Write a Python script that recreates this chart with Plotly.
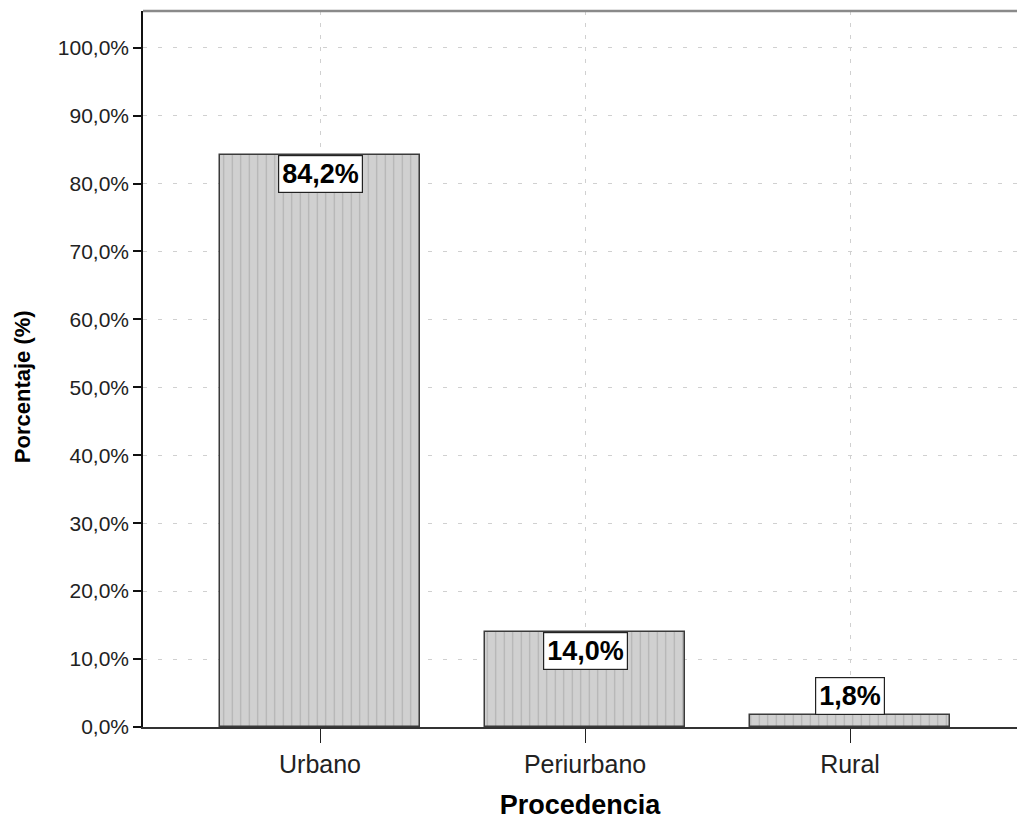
import plotly.graph_objects as go

# Distribución por procedencia
categorias = ["Urbano", "Periurbano", "Rural"]
porcentajes = [84.2, 14.0, 1.8]
ticks_y = [0, 10, 20, 30, 40, 50, 60, 70, 80, 90, 100]

FONT = "Liberation Sans, Arial, sans-serif"


def fmt(v):
    return f"{v:.1f}".replace(".", ",") + "%"


x_pos = list(range(len(categorias)))

fig = go.Figure()
fig.add_trace(go.Bar(
    x=x_pos,
    y=porcentajes,
    width=0.755,
    marker=dict(
        color="#d0d0d0",
        line=dict(color="#3a3a3a", width=1.5),
        pattern=dict(shape="|", fgcolor="#929292", bgcolor="#d0d0d0",
                     size=8.5, solidity=0.13),
    ),
    hoverinfo="skip",
    showlegend=False,
))

# Etiquetas de valor en cajas blancas
for xp, v in zip(x_pos, porcentajes):
    inside = v > 8
    fig.add_annotation(
        x=xp, y=v, xref="x", yref="y",
        text=f"<b>{fmt(v)}</b>",
        showarrow=False,
        yanchor="top" if inside else "bottom",
        xanchor="center",
        font=dict(family=FONT, size=27, color="black"),
        bgcolor="white",
        bordercolor="#222222",
        borderwidth=1.2,
        borderpad=3,
    )

# Título del eje Y
fig.add_annotation(
    x=-0.137, y=0.475, xref="paper", yref="paper",
    text="<b>Porcentaje (%)</b>", textangle=-90,
    showarrow=False, xanchor="center", yanchor="middle",
    font=dict(family=FONT, size=22, color="black"),
)

# Borde superior del área de trazado
fig.add_shape(type="line", xref="paper", yref="paper", x0=0, x1=1, y0=1, y1=1,
              line=dict(color="#8a8a8a", width=2.5))

fig.update_layout(
    width=1017, height=821,
    margin=dict(l=143, r=0, t=11, b=94),
    paper_bgcolor="white",
    plot_bgcolor="white",
    font=dict(family=FONT, color="#222222"),
    bargap=0,
)

fig.update_xaxes(
    range=[-0.668, 2.63],
    tickmode="array",
    tickvals=x_pos,
    ticktext=categorias,
    tickfont=dict(family=FONT, size=25, color="#222222"),
    ticks="outside", ticklen=14, tickcolor="#222222", tickwidth=1.2,
    showline=True, linecolor="#333333", linewidth=2,
    showgrid=True, gridcolor="#d0d0d0", gridwidth=1, griddash="4px,8px",
    zeroline=False,
    title=dict(text="<b>Procedencia</b>", font=dict(family=FONT, size=27, color="black"),
               standoff=18),
)

fig.update_yaxes(
    range=[0, 105.4],
    tickmode="array",
    tickvals=ticks_y,
    ticktext=[fmt(t) for t in ticks_y],
    tickfont=dict(family=FONT, size=21, color="#222222"),
    ticks="outside", ticklen=8, tickcolor="#111111", tickwidth=1.5,
    showline=True, linecolor="#111111", linewidth=1.5,
    showgrid=True, gridcolor="#d0d0d0", gridwidth=1, griddash="4px,11px",
    zeroline=False,
)

fig.write_html("out.html")
